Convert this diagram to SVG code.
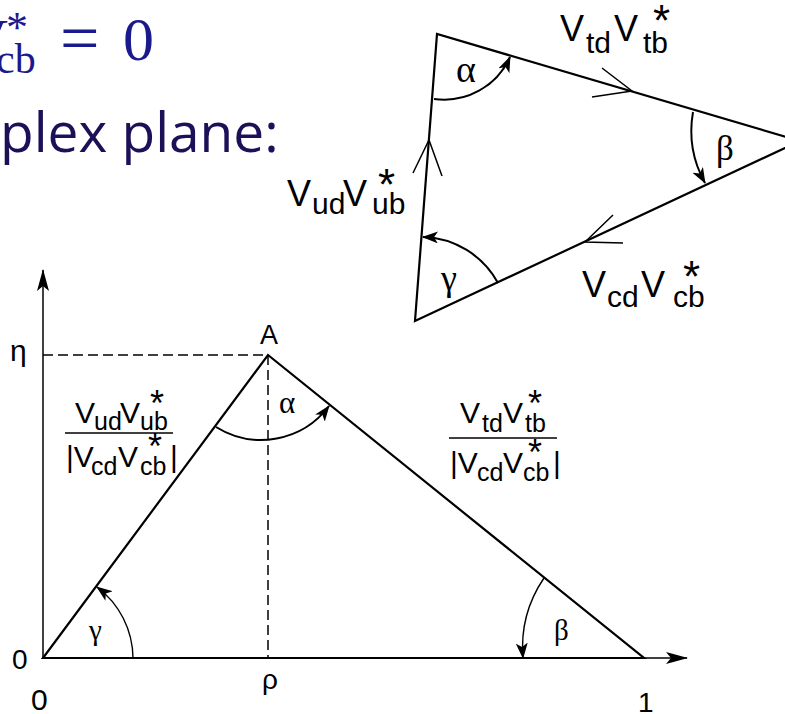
<svg xmlns="http://www.w3.org/2000/svg" width="785" height="714" viewBox="0 0 785 714">
<style>
.edge{fill:none;stroke:#000;stroke-width:2.2;stroke-linecap:round;stroke-linejoin:miter}
.thin{fill:none;stroke:#000;stroke-width:1.5}
.chev{fill:none;stroke:#000;stroke-width:1.5}
.arc{fill:none;stroke:#000;stroke-width:2}
.arcs{fill:none;stroke:#000;stroke-width:1.4}
.dash{fill:none;stroke:#000;stroke-width:1.5;stroke-dasharray:10 5}
.sans{font-family:"Liberation Sans",Arial,sans-serif;fill:#000}
.greek{font-family:"Liberation Serif","Times New Roman",serif;fill:#000}
.cm{font-family:"Liberation Serif","Times New Roman",serif;fill:#1a1a8c}
.head{font-family:"Open Sans","DejaVu Sans",sans-serif;fill:#1c1058}
</style>
<defs>
<marker id="ah" viewBox="0 -6 16 12" refX="15" refY="0" markerWidth="16" markerHeight="12" markerUnits="userSpaceOnUse" orient="auto">
<path d="M0,-6 L16,0 L0,6 L4,0 z" fill="#000"/>
</marker>
<marker id="ax" viewBox="0 -6 22 12" refX="21" refY="0" markerWidth="22" markerHeight="12" markerUnits="userSpaceOnUse" orient="auto">
<path d="M0,-6 L22,0 L0,6 L5,0 z" fill="#000"/>
</marker>
</defs>

<g id="heading">
<text class="cm" font-size="60"><tspan x="8" y="60" text-anchor="end">V</tspan></text>
<text class="cm" font-size="44" x="6" y="42">*</text>
<text class="cm" font-size="42" x="-4" y="73">cb</text>
<text class="cm" font-size="70" x="60" y="62">=</text>
<text class="cm" font-size="62" x="123" y="60">0</text>
<text class="head" font-size="55" x="0" y="152">plex plane:</text>
</g>

<g id="connectors">
<!-- top triangle -->
<path class="edge" d="M415,321 L437,34 L800,141 Z"/>
<polyline class="chev" points="413,173 429,140 442,176"/>
<polyline class="chev" points="602,68 632,91 592,97"/>
<polyline class="chev" points="613,215 585,242 623,243"/>
<path class="arc" d="M434,99 A72,72 0 0 0 510,57" marker-end="url(#ah)"/>
<path class="arc" d="M693,112 A108,108 0 0 0 705,183" marker-end="url(#ah)"/>
<path class="arc" d="M498,283 A88,88 0 0 0 423,237" marker-end="url(#ah)"/>

<!-- bottom: axes -->
<line class="thin" x1="43" y1="658" x2="43" y2="270" marker-end="url(#ax)"/>
<line class="thin" x1="43" y1="658" x2="687" y2="658" marker-end="url(#ax)"/>
<path class="dash" d="M43,355 H268"/>
<path class="dash" d="M268,355 V658"/>
<path class="edge" d="M43,658 L268,355 L644,658 Z"/>
<path class="arc" d="M216,427 A85,85 0 0 0 329,406" marker-end="url(#ah)"/>
<path class="arcs" d="M133,658 A90,90 0 0 0 97,587" marker-end="url(#ah)"/>
<path class="arcs" d="M544,578 A124,124 0 0 0 523,658" marker-end="url(#ah)"/>
</g>

<g id="top-labels">
<text class="sans" font-size="36"><tspan x="560" y="41">V</tspan><tspan x="586" y="53" font-size="30">td</tspan><tspan x="614" y="41">V</tspan><tspan x="653" y="36" font-size="44">*</tspan><tspan x="643" y="53" font-size="30">tb</tspan></text>
<text class="sans" font-size="36"><tspan x="287" y="206">V</tspan><tspan x="312" y="214" font-size="30">ud</tspan><tspan x="343" y="206">V</tspan><tspan x="378" y="200" font-size="44">*</tspan><tspan x="372" y="214" font-size="30">ub</tspan></text>
<text class="sans" font-size="36"><tspan x="582" y="297">V</tspan><tspan x="607" y="307" font-size="30">cd</tspan><tspan x="641" y="297">V</tspan><tspan x="683" y="292" font-size="44">*</tspan><tspan x="673" y="307" font-size="30">cb</tspan></text>
<text class="greek" font-size="38" x="456" y="82">α</text>
<text class="greek" font-size="35" x="716" y="160">β</text>
<text class="greek" font-size="36" x="441" y="290">γ</text>
</g>

<g id="bottom-labels">
<text class="sans" font-size="27" x="269" y="344" text-anchor="middle">A</text>
<text class="sans" font-size="30" x="10" y="361">η</text>
<text class="sans" font-size="28" x="12" y="669">0</text>
<text class="sans" font-size="30" x="31" y="710">0</text>
<text class="sans" font-size="28" x="262" y="689">ρ</text>
<text class="sans" font-size="28" x="638" y="712">1</text>
<text class="greek" font-size="31" x="279" y="413">α</text>
<text class="greek" font-size="29" x="89" y="640">γ</text>
<text class="greek" font-size="29" x="554" y="640">β</text>
</g>

<g id="frac-left">
<text class="sans" font-size="30"><tspan x="75" y="423">V</tspan><tspan x="94" y="430" font-size="25">ud</tspan><tspan x="120" y="423">V</tspan><tspan x="150" y="416" font-size="36">*</tspan><tspan x="140" y="430" font-size="25">ub</tspan></text>
<line x1="65" y1="433" x2="173" y2="433" stroke="#000" stroke-width="1.5"/>
<text class="sans" font-size="30"><tspan x="66" y="467">|V</tspan><tspan x="91" y="475" font-size="25">cd</tspan><tspan x="118" y="467">V</tspan><tspan x="148" y="459" font-size="36">*</tspan><tspan x="140" y="475" font-size="25">cb</tspan><tspan x="170" y="467">|</tspan></text>
</g>

<g id="frac-right">
<text class="sans" font-size="30"><tspan x="460" y="423">V</tspan><tspan x="482" y="432" font-size="25">td</tspan><tspan x="503" y="423">V</tspan><tspan x="528" y="416" font-size="36">*</tspan><tspan x="525" y="432" font-size="25">tb</tspan></text>
<line x1="449" y1="438" x2="557" y2="438" stroke="#000" stroke-width="1.5"/>
<text class="sans" font-size="30"><tspan x="450" y="473">|V</tspan><tspan x="477" y="481" font-size="25">cd</tspan><tspan x="503" y="473">V</tspan><tspan x="528" y="465" font-size="36">*</tspan><tspan x="523" y="481" font-size="25">cb</tspan><tspan x="553" y="473">|</tspan></text>
</g>
</svg>
